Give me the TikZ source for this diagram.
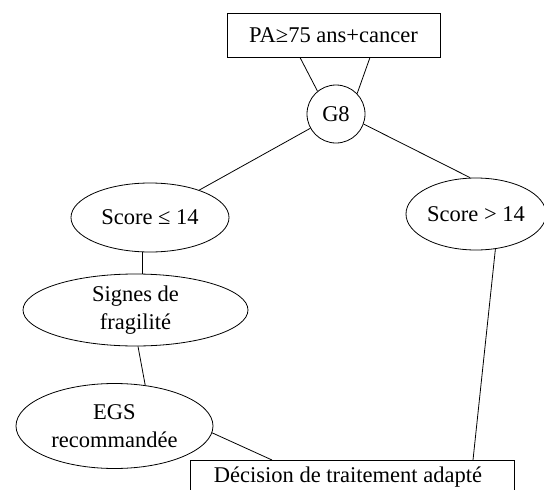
\documentclass[tikz,border=0pt]{standalone}
\usepackage{fontspec}
\setmainfont{Liberation Serif}
\usetikzlibrary{shapes.geometric,calc}
\begin{document}
\begin{tikzpicture}[x=1pt,y=-1pt,
  every node/.style={font=\fontsize{22.5}{28}\selectfont, align=center, inner sep=0pt},
  boxnode/.style={draw, rectangle, line width=0.9pt},
  ovalnode/.style={draw, ellipse, line width=0.8pt},
  link/.style={line width=0.8pt}]
\useasboundingbox (0,0) rectangle (544,490);
\begin{scope}
\clip (0,0) rectangle (544,490);
\node[boxnode, minimum width=213, minimum height=44] (pa) at (333.5,35) {PA≥75 ans+cancer};
\node[draw, circle, line width=0.8pt, minimum size=58] (g8) at (336,114) {G8};
\node[ovalnode, minimum width=158, minimum height=69] (s1) at (150,217.5) {Score ≤ 14};
\node[ovalnode, minimum width=140, minimum height=72] (s2) at (476,214) {Score > 14};
\node[ovalnode, minimum width=225, minimum height=72] (sf) at (135.5,310) {Signes de\\fragilité};
\node[ovalnode, minimum width=197, minimum height=85] (egs) at (114.5,426) {EGS\\recommandée};
\node[boxnode, minimum width=324, minimum height=44, anchor=north west] (dec) at (190,460) {};
\node[anchor=base] (dectext) at (348,482) {Décision de traitement adapté};
\draw[link] ($(pa.south)+(-33.5,0)$) -- (g8.129);
\draw[link] ($(pa.south)+(36.5,0)$) -- (g8.44);
\draw[link] (g8) -- (s1);
\draw[link] (g8.-20) -- ($(s2.north)+(-6,0)$);
\draw[link] ($(s1.south)+(-8,0)$) -- ($(sf.north)+(6.5,0)$);
\draw[link] ($(sf.south)+(2.5,0)$) -- (egs.53);
\draw[link] (egs.-4) -- ($(dec.north west)+(82,0)$);
\draw[link] (s2.-61) -- ($(dec.north west)+(283,0)$);
\end{scope}
\end{tikzpicture}
\end{document}
